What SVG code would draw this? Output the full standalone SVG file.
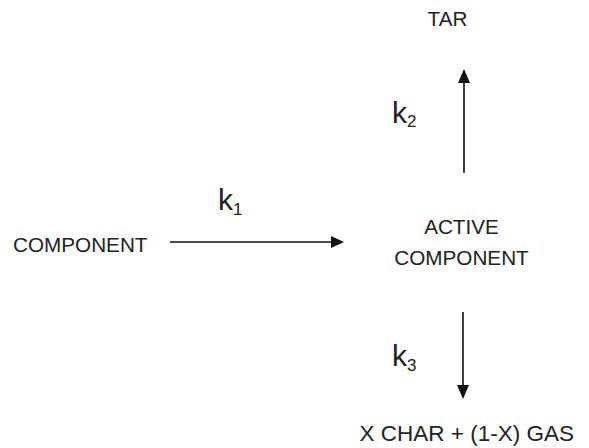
<svg xmlns="http://www.w3.org/2000/svg" width="589" height="448" viewBox="0 0 589 448">
  <style>
    .lbl { font-family: "Liberation Sans", Arial, sans-serif; font-size: 20.7px; fill: #222; }
    .big { font-size: 22.5px; }
    .k { font-family: "Liberation Sans", Arial, sans-serif; font-size: 30px; fill: #222; }
    .sub { font-size: 17px; }
    .edge { stroke: #111; stroke-width: 1.6; fill: none; }
    .head { fill: #111; }
  </style>
  <rect width="589" height="448" fill="#fff"/>

  <g id="component">
    <text class="lbl" x="13" y="252">COMPONENT</text>
  </g>
  <g id="active-component">
    <text class="lbl" x="461.5" y="234" text-anchor="middle">ACTIVE</text>
    <text class="lbl" x="461.5" y="265" text-anchor="middle">COMPONENT</text>
  </g>
  <g id="tar">
    <text class="lbl" x="447.5" y="26" text-anchor="middle">TAR</text>
  </g>
  <g id="char-gas">
    <text class="lbl big" x="574" y="441" text-anchor="end">X CHAR + (1-X) GAS</text>
  </g>

  <g id="connectors">
    <!-- COMPONENT to ACTIVE COMPONENT -->
    <line class="edge" x1="170" y1="242" x2="332" y2="242"/>
    <path class="head" d="M331,236 L344,242 L331,248 Z"/>
    <!-- ACTIVE COMPONENT to TAR -->
    <line class="edge" x1="464" y1="173" x2="464" y2="82"/>
    <path class="head" d="M458,83 L464,69 L470,83 Z"/>
    <!-- ACTIVE COMPONENT to CHAR + GAS -->
    <line class="edge" x1="463" y1="312" x2="463" y2="386"/>
    <path class="head" d="M457,385 L463,399 L469,385 Z"/>
    <text class="k" x="218" y="210">k<tspan class="sub" dy="4.5">1</tspan></text>
    <text class="k" x="392" y="122.5">k<tspan class="sub" dy="4.5">2</tspan></text>
    <text class="k" x="392" y="366">k<tspan class="sub" dy="4.5">3</tspan></text>
  </g>
</svg>
